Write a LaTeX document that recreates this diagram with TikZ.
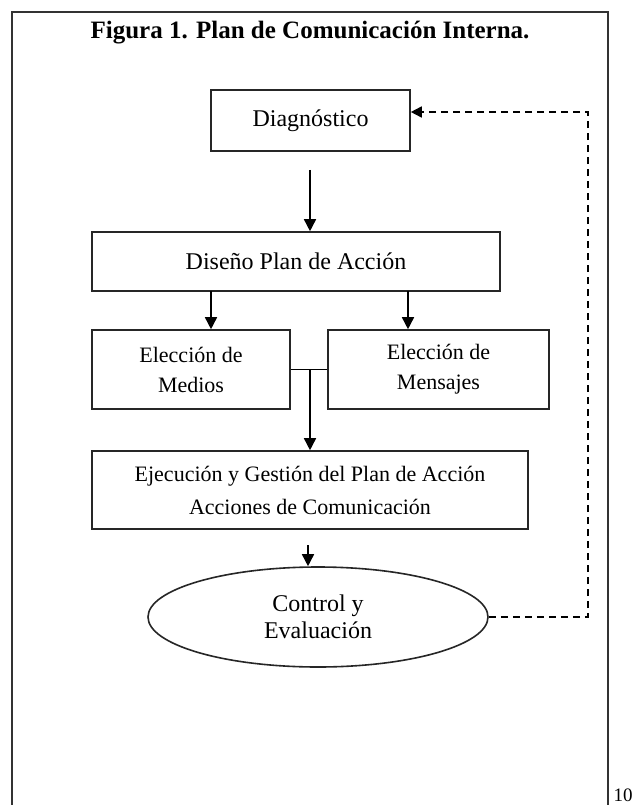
\documentclass[tikz,border=0pt]{standalone}
\usepackage{fontspec}
\setmainfont{Liberation Serif}
\usetikzlibrary{arrows.meta,shapes.geometric,calc}
\tikzset{
  boxnode/.style={draw=black!85, line width=1.6pt, inner sep=0pt, align=center, text=black},
  ellnode/.style={ellipse, draw=black!85, line width=1.6pt, inner sep=0pt, align=center},
  flowarrow/.style={line width=1.6pt, -{Triangle[width=12pt,length=12pt]}},
  joinline/.style={line width=1.6pt},
  backarrow/.style={line width=1.6pt, dash pattern=on 7pt off 5pt, -{Triangle[width=11pt,length=11pt]}},
  framestyle/.style={line width=1.5pt, draw=black!80},
}
\begin{document}
\begin{tikzpicture}[x=1pt,y=-1pt]
\useasboundingbox (0,0) rectangle (635,805);
\fill[white] (0,0) rectangle (635,805);
% frame
\draw[framestyle] (12,805) -- (12,12) -- (608,12) -- (608,805);
\node[font=\fontsize{19}{21}\selectfont] (pagenum) at (623,795) {10};
% title
\node[font=\fontsize{25}{28}\selectfont\bfseries] (title) at (310,33) {Figura 1. Plan de Comunicación Interna.};
% boxes
\node[boxnode, font=\fontsize{24}{28}\selectfont, minimum width=199pt, minimum height=61pt] (diag) at (310.5,120.5) {Diagnóstico};
\node[boxnode, font=\fontsize{24}{28}\selectfont, minimum width=408pt, minimum height=59pt] (dis) at (296,261.5) {Diseño Plan de Acción};
\node[boxnode, font=\fontsize{22}{30}\selectfont, minimum width=198pt, minimum height=79pt] (med) at (191,369.5) {Elección de\\Medios};
\node[boxnode, font=\fontsize{22}{30}\selectfont, minimum width=221pt, minimum height=79pt] (men) at (438.5,369.5) {Elección de\\Mensajes};
\node[boxnode, font=\fontsize{22}{33}\selectfont, minimum width=436pt, minimum height=78pt] (eje) at (310,490) {Ejecución y Gestión del Plan de Acción\\Acciones de Comunicación};
\node[ellnode, font=\fontsize{24}{27}\selectfont, minimum width=340pt, minimum height=100pt] (ell) at (318,617) {Control y\\Evaluación};
% connector coordinates
\coordinate (a1) at (310,170);
\coordinate (a2) at (211,291);
\coordinate (a3) at (408,291);
\coordinate (j) at (310,369.5);
\coordinate (a4) at (308,545);
\coordinate (c1) at (588,112);
% connectors
\draw[flowarrow] (a1) -- (a1 |- dis.north);
\draw[flowarrow] (a2) -- (a2 |- med.north);
\draw[flowarrow] (a3) -- (a3 |- men.north);
\draw[joinline] (med.east) -- (men.west);
\draw[flowarrow] (j) -- (j |- eje.north);
\draw[flowarrow] (a4) -- (a4 |- ell.north);
\draw[backarrow] (ell.east) -| (c1) -- (c1 -| diag.east);
\end{tikzpicture}
\end{document}
